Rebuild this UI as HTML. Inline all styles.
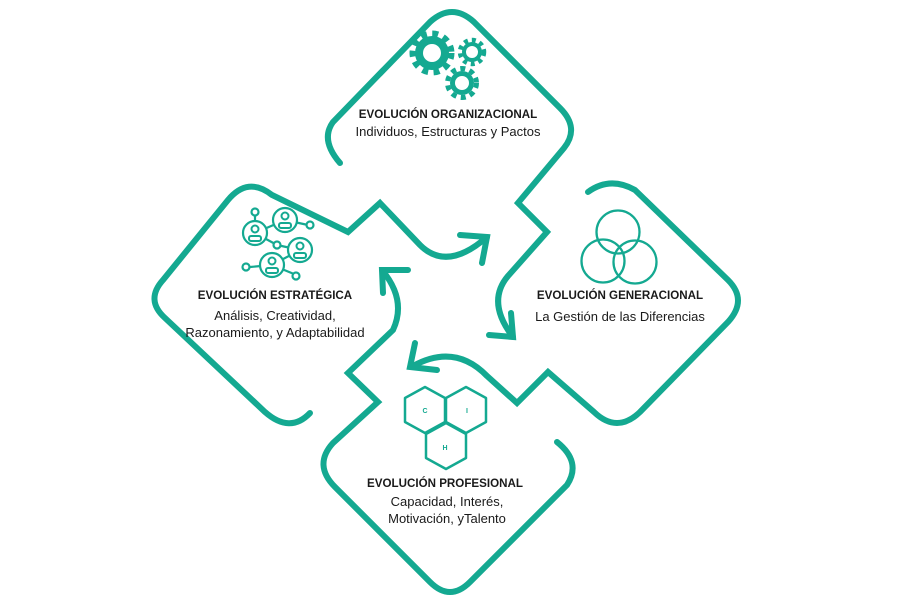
<!DOCTYPE html>
<html><head><meta charset="utf-8"><style>
html,body{margin:0;padding:0;background:#fff;}
svg{display:block;}
text{font-family:"Liberation Sans",sans-serif;fill:#1a1a1a;}
.t{font-weight:bold;font-size:11.6px;}
.s{font-size:13px;}
</style></head><body>
<svg width="900" height="600" viewBox="0 0 900 600" xmlns="http://www.w3.org/2000/svg">
<g fill="none" stroke="#14a991" stroke-width="6" stroke-linecap="round" stroke-linejoin="miter">
<path d="M340,163 Q320,140 333,122 L430,22 Q452,2 474,22 L560,108 Q580,128 564,148 L518,203 L547,232 L508,276 Q486,302 513,337"/>
<polyline points="511,313 513,337 489,335"/>
<path d="M588,192 Q610,176 635,190 L728,280 Q748,300 728,322 L640,412 Q617,434 594,412 L548,372 L517,403 L487,376 Q455,343 413,366"/>
<polyline points="415,343 410,367 437,370"/>
<path d="M310,413 Q290,434 265,412 L165,318 Q145,300 163,280 L228,200 Q248,176 272,195 L348,232 L380,203 L420,245 Q447,272 487,237"/>
<polyline points="460,235 487,237 482,263"/>
<path d="M382,270 Q407,300 393,330 L348,373 L378,402 L333,443 Q313,465 335,487 L430,582 Q450,602 470,582 L567,485 Q582,462 557,442"/>
<polyline points="408,270 382,270 383,293"/>
</g>
<!-- gears -->
<g fill="#14a991">
<circle cx="432" cy="53" r="17"/>
<circle cx="432" cy="53" r="19.5" fill="none" stroke="#14a991" stroke-width="6" stroke-dasharray="6 5.5"/>
<circle cx="472" cy="52" r="10"/>
<circle cx="472" cy="52" r="12" fill="none" stroke="#14a991" stroke-width="4.5" stroke-dasharray="4 4"/>
<circle cx="462" cy="83" r="12"/>
<circle cx="462" cy="83" r="14.5" fill="none" stroke="#14a991" stroke-width="5" stroke-dasharray="5 4.5"/>
<circle cx="432" cy="53" r="9" fill="#fff"/>
<circle cx="472" cy="52" r="6" fill="#fff"/>
<circle cx="462" cy="83" r="7" fill="#fff"/>
</g>
<!-- venn -->
<g fill="none" stroke="#14a991" stroke-width="2.3">
<circle cx="618" cy="232" r="21.5"/>
<circle cx="603" cy="261" r="21.5"/>
<circle cx="635" cy="262" r="21.5"/>
</g>
<!-- network -->
<g fill="none" stroke="#14a991" stroke-width="2.2">
<line x1="255" y1="233" x2="255" y2="215"/><line x1="285" y1="220" x2="308" y2="225"/>
<line x1="255" y1="233" x2="285" y2="220"/><line x1="255" y1="233" x2="277" y2="245"/>
<line x1="300" y1="250" x2="277" y2="245"/><line x1="272" y1="265" x2="250" y2="267"/>
<line x1="272" y1="265" x2="294" y2="274"/><line x1="272" y1="265" x2="300" y2="250"/>
<circle cx="255" cy="233" r="12" fill="#fff"/><circle cx="285" cy="220" r="12" fill="#fff"/>
<circle cx="300" cy="250" r="12" fill="#fff"/><circle cx="272" cy="265" r="12" fill="#fff"/>
<circle cx="255" cy="212" r="3.5" fill="#fff"/><circle cx="310" cy="225" r="3.5" fill="#fff"/>
<circle cx="277" cy="245" r="3.5" fill="#fff"/><circle cx="246" cy="267" r="3.5" fill="#fff"/>
<circle cx="296" cy="276" r="3.5" fill="#fff"/>
<g stroke-width="2">
<circle cx="255" cy="229" r="3.5"/><rect x="249" y="236" width="12" height="5" rx="2"/>
<circle cx="285" cy="216" r="3.5"/><rect x="279" y="223" width="12" height="5" rx="2"/>
<circle cx="300" cy="246" r="3.5"/><rect x="294" y="253" width="12" height="5" rx="2"/>
<circle cx="272" cy="261" r="3.5"/><rect x="266" y="268" width="12" height="5" rx="2"/>
</g>
</g>
<!-- hexagons -->
<g fill="none" stroke="#14a991" stroke-width="2.5" stroke-linejoin="round">
<polygon points="425,387 445,398 445,422 425,433 405,422 405,398"/>
<polygon points="466,387 486,398 486,422 466,433 446,422 446,398"/>
<polygon points="446,423 466,434 466,458 446,469 426,458 426,434"/>
</g>
<g font-size="7" font-weight="bold" text-anchor="middle">
<text x="425" y="413" style="fill:#14a991">C</text>
<text x="467" y="413" style="fill:#14a991">I</text>
<text x="445" y="450" style="fill:#14a991">H</text>
</g>
<g text-anchor="middle">
<text class="t" x="448" y="118">EVOLUCIÓN ORGANIZACIONAL</text>
<text class="s" x="448" y="136">Individuos, Estructuras y Pactos</text>
<text class="t" x="620" y="299">EVOLUCIÓN GENERACIONAL</text>
<text class="s" x="620" y="321">La Gestión de las Diferencias</text>
<text class="t" x="275" y="299">EVOLUCIÓN ESTRATÉGICA</text>
<text class="s" x="275" y="320">Análisis, Creatividad,</text>
<text class="s" x="275" y="337">Razonamiento, y Adaptabilidad</text>
<text class="t" x="445" y="487">EVOLUCIÓN PROFESIONAL</text>
<text class="s" x="447" y="506">Capacidad, Interés,</text>
<text class="s" x="447" y="523">Motivación, yTalento</text>
</g>
</svg>
</body></html>
